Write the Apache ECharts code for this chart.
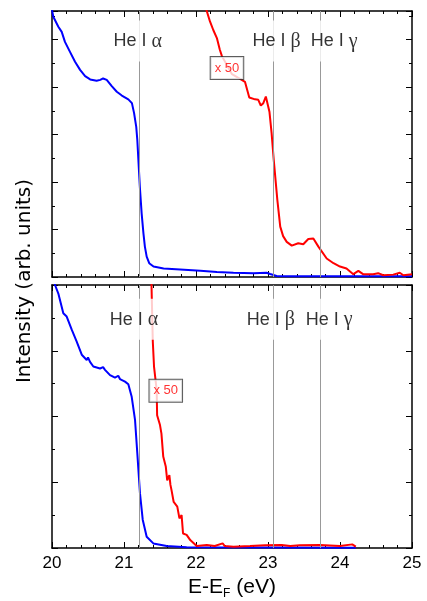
<!DOCTYPE html>
<html>
<head>
<meta charset="utf-8">
<script src="https://cdn.jsdelivr.net/npm/echarts@6/dist/echarts.min.js"></script>
<style>html,body{margin:0;padding:0;background:#fff;}#c{width:427px;height:601px;}</style>
</head>
<body>
<div id="c"></div>
<script>
// ---- data (energy E-EF in eV, intensity in arb. units) ----
const topBlue = [[20.0,5.62],[20.018,5.48],[20.088,5.27],[20.135,5.16],[20.18,4.95],[20.25,4.74],[20.32,4.53],[20.39,4.36],[20.46,4.23],[20.53,4.16],[20.62,4.13],[20.67,4.15],[20.71,4.18],[20.76,4.15],[20.83,4.02],[20.90,3.90],[20.97,3.82],[21.06,3.74],[21.11,3.66],[21.14,3.45],[21.17,3.16],[21.185,2.88],[21.20,2.46],[21.22,1.90],[21.245,1.34],[21.27,0.92],[21.29,0.64],[21.315,0.43],[21.35,0.29],[21.41,0.22],[21.55,0.18],[21.78,0.16],[22.06,0.13],[22.29,0.105],[22.52,0.09],[22.80,0.08],[22.98,0.09],[23.03,0.063],[23.12,0.02],[23.26,0.015],[25.0,0.015]];
const topRed = [[22.125,5.72],[22.194,5.38],[22.24,5.2],[22.29,5.03],[22.33,4.79],[22.36,4.65],[22.5,4.27],[22.635,4.15],[22.68,4.11],[22.74,3.78],[22.82,3.74],[22.865,3.73],[22.90,3.61],[22.935,3.66],[22.97,3.80],[23.02,3.48],[23.05,3.03],[23.08,2.46],[23.13,1.62],[23.17,1.06],[23.21,0.86],[23.26,0.74],[23.33,0.66],[23.42,0.71],[23.49,0.69],[23.56,0.80],[23.63,0.81],[23.70,0.64],[23.815,0.39],[23.91,0.29],[24.0,0.22],[24.09,0.18],[24.185,0.06],[24.255,0.13],[24.32,0.06],[24.46,0.06],[24.53,0.08],[24.60,0.036],[24.74,0.05],[24.83,0.09],[24.88,0.036],[25.0,0.06]];
const bottomBlue = [[20.03,4.05],[20.042,4.0],[20.088,3.87],[20.157,3.57],[20.204,3.52],[20.274,3.32],[20.343,3.14],[20.413,2.94],[20.482,2.86],[20.5,2.9],[20.528,2.83],[20.574,2.76],[20.667,2.73],[20.71,2.75],[20.736,2.71],[20.806,2.63],[20.875,2.59],[20.92,2.62],[20.944,2.57],[21.014,2.53],[21.04,2.56],[21.06,2.49],[21.107,2.30],[21.153,1.95],[21.185,1.44],[21.222,0.83],[21.26,0.43],[21.315,0.17],[21.407,0.07],[21.593,0.03],[21.87,0.01],[24.22,0.005]];
const bottomRed = [[21.38,4.1],[21.385,3.85],[21.40,3.14],[21.417,2.76],[21.454,2.40],[21.46,2.02],[21.50,1.87],[21.52,1.74],[21.545,1.39],[21.58,1.24],[21.60,1.03],[21.63,1.11],[21.645,0.96],[21.66,0.88],[21.69,0.70],[21.74,0.63],[21.77,0.45],[21.80,0.50],[21.82,0.22],[21.87,0.20],[21.92,0.12],[22.01,0.03],[22.15,0.045],[22.26,0.03],[22.37,0.07],[22.40,0.03],[22.52,0.02],[22.75,0.03],[22.96,0.04],[23.19,0.045],[23.31,0.03],[23.44,0.04],[23.72,0.045],[24.0,0.03],[24.17,0.055],[24.22,0.02]];
const heLineX = [21.21, 23.07, 23.72];
const heNames = ['α', 'β', 'γ'];
const heLabelTopX = [21.19, 23.12, 23.92];
const heLabelBottomX = [21.14, 23.04, 23.85];
const heLabelTopY = 4.97;
const heLabelBottomY = 3.48;
const scaleTop = [[22.43, 4.4]];
const scaleBottom = [[21.58, 2.39]];
const scaleText = 'x 50';
const xTickValues = [20, 21, 22, 23, 24, 25];
const yMaxTop = 5.6, yMaxBottom = 4;

const chart = echarts.init(document.getElementById('c'), null, {renderer: 'canvas'});
const SANS = 'Liberation Sans, Arial, sans-serif';

function xAx(grid, pos, showLabel) {
  return {
    type: 'value', gridIndex: grid, position: pos, min: xTickValues[0], max: xTickValues[xTickValues.length-1], interval: 1,
    axisLine: {show: true, onZero: false, lineStyle: {color: '#000', width: 1.5}},
    axisTick: {show: true, inside: true, length: 6, lineStyle: {color: '#000', width: 1}},
    minorTick: {show: true, splitNumber: 5, length: 3, lineStyle: {color: '#000', width: 1}},
    splitLine: {show: false}, minorSplitLine: {show: false},
    axisLabel: {show: showLabel, color: '#000', fontSize: 17, fontFamily: SANS, margin: 7},
    name: showLabel ? '{a|E-E}{s|F}{a| (eV)}' : '',
    nameLocation: 'middle', nameGap: 26,
    nameTextStyle: {rich: {
      a: {fontSize: 21, fontFamily: SANS, color: '#000'},
      s: {fontSize: 12, fontFamily: SANS, color: '#000', verticalAlign: 'bottom', padding: [14, 0, 0, 0]}
    }}
  };
}
function yAx(grid, pos, max) {
  return {
    type: 'value', gridIndex: grid, position: pos, min: 0, max: max, interval: 1,
    axisLine: {show: true, onZero: false, lineStyle: {color: '#000', width: 1.5}},
    axisTick: {show: true, inside: true, length: 6, lineStyle: {color: '#000', width: 1}},
    minorTick: {show: true, splitNumber: 2, length: 3, lineStyle: {color: '#000', width: 1}},
    splitLine: {show: false}, minorSplitLine: {show: false},
    axisLabel: {show: false}
  };
}
function curve(name, data, color, xi, yi) {
  return {name, type: 'line', xAxisIndex: xi, yAxisIndex: yi, data, showSymbol: false, symbol: 'none',
    lineStyle: {color, width: 2}, itemStyle: {color}, z: 3, clip: true, silent: true, animation: false};
}
function heLines(xi, yi) {
  return {type: 'line', xAxisIndex: xi, yAxisIndex: yi, data: [], z: 2, silent: true, animation: false,
    markLine: {silent: true, symbol: ['none', 'none'], animation: false,
      lineStyle: {color: '#999', width: 1, type: 'solid'}, label: {show: false},
      data: heLineX.map(v => ({xAxis: v}))}};
}
function heLabels(xi, yi, xs, y) {
  return {type: 'scatter', xAxisIndex: xi, yAxisIndex: yi, symbolSize: 0, z: 10, silent: true, animation: false,
    data: xs.map((x, i) => ({value: [x, y], g: heNames[i]})),
    label: {show: true, position: 'inside', backgroundColor: '#fff', padding: [11, 2, 10, 2],
      formatter: p => '{a|He I }{g|' + p.data.g + '}',
      rich: {a: {fontSize: 18, fontFamily: SANS, color: '#000'}, g: {fontSize: 20, fontFamily: 'Liberation Serif, Times New Roman, serif', color: '#000'}}}};
}
function scaleBox(xi, yi, data) {
  return {type: 'scatter', xAxisIndex: xi, yAxisIndex: yi, symbolSize: 0, z: 11, silent: true, animation: false,
    data: data,
    label: {show: true, position: 'inside', formatter: scaleText, color: '#f00', fontSize: 13, fontFamily: SANS,
      backgroundColor: '#fff', borderColor: '#333', borderWidth: 1, padding: [5, 4, 4, 4]}};
}

chart.setOption({
  animation: false,
  backgroundColor: '#fff',
  grid: [
    {left: 52, top: 11, width: 360, height: 266, outerBoundsMode: 'none', containLabel: false},
    {left: 52, top: 285, width: 360, height: 263, outerBoundsMode: 'none', containLabel: false}
  ],
  xAxis: [xAx(0, 'bottom', false), xAx(0, 'top', false), xAx(1, 'bottom', true), xAx(1, 'top', false)],
  yAxis: [yAx(0, 'left', yMaxTop), yAx(0, 'right', yMaxTop), yAx(1, 'left', yMaxBottom), yAx(1, 'right', yMaxBottom)],
  graphic: [{type: 'text', x: 25, y: 281, rotation: Math.PI / 2,
    style: {text: 'Intensity (arb. units)', fontSize: 20, fontFamily: 'DejaVu Sans, Verdana, sans-serif', fill: '#000',
      textAlign: 'center', textVerticalAlign: 'middle', align: 'center', verticalAlign: 'middle'}}],
  series: [
    heLines(0, 0), heLines(2, 2),
    curve('blueTop', topBlue, '#0000ff', 0, 0),
    curve('redTop', topRed, '#ff0000', 0, 0),
    curve('blueBottom', bottomBlue, '#0000ff', 2, 2),
    curve('redBottom', bottomRed, '#ff0000', 2, 2),
    heLabels(0, 0, heLabelTopX, heLabelTopY),
    heLabels(2, 2, heLabelBottomX, heLabelBottomY),
    scaleBox(0, 0, scaleTop),
    scaleBox(2, 2, scaleBottom)
  ]
});
</script>
</body>
</html>
